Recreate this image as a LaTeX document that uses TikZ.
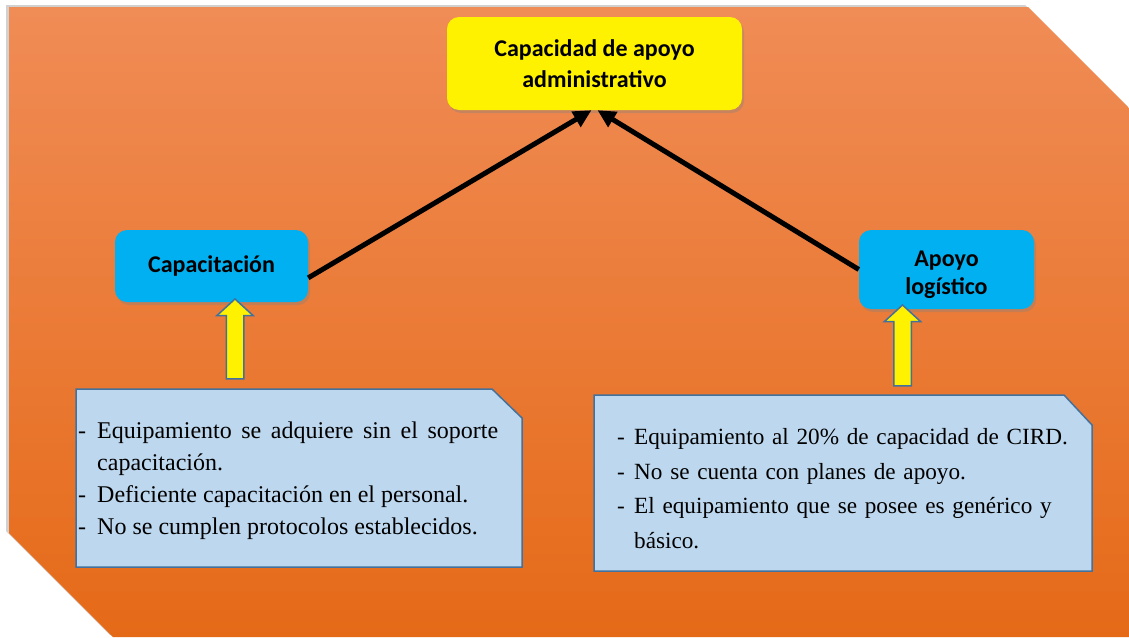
\documentclass[tikz,border=0pt]{standalone}
\usepackage{fontspec}
\setmainfont{Liberation Serif}
\newfontfamily\boxfont{Carlito}
\usetikzlibrary{arrows.meta,shapes.arrows,shadows}

\definecolor{bgtop}{RGB}{240,140,86}
\definecolor{bgmid}{RGB}{245,123,42}
\definecolor{bgbot}{RGB}{229,106,24}
\definecolor{boxblue}{RGB}{0,176,240}
\definecolor{notefill}{RGB}{189,215,238}
\definecolor{noteline}{RGB}{65,113,156}

\begin{document}
\begin{tikzpicture}[x=1pt,y=1pt,
        titlebox/.style={rounded corners=12pt, align=center, inner sep=0pt,
            font=\boxfont\bfseries\fontsize{24}{31}\selectfont,
            drop shadow={shadow xshift=2pt,shadow yshift=-3pt,opacity=0.35}},
        uparrow/.style={single arrow, rotate=90, fill=yellow, draw=noteline,
            line width=1.5pt, inner sep=8pt,
            single arrow head extend=9.5pt, single arrow tip angle=95},
        link/.style={line width=5pt, -{Triangle[length=18pt,width=17pt]}},
        note/.style={fill=notefill, draw=noteline, line width=1.5pt},
        notetext/.style={inner sep=0pt, anchor=north west}]
            \useasboundingbox (0,0) rectangle (1129,-637);

            % background sheet
            \coordinate (b1) at (9,-7);
            \coordinate (b2) at (1028,-7);
            \coordinate (b3) at (1129,-108);
            \coordinate (b4) at (1129,-637);
            \coordinate (b5) at (113,-637);
            \coordinate (b6) at (9,-533);

            \fill[black,opacity=0.18] ([shift={(-3,2)}]b1) -- ([shift={(-3,2)}]b2) -- ([shift={(-3,2)}]b3)
                -- ([shift={(-3,2)}]b4) -- ([shift={(-3,2)}]b5) -- ([shift={(-3,2)}]b6) -- cycle;
            \shade[top color=bgtop, middle color=bgmid, bottom color=bgbot]
                (b1) -- (b2) -- (b3) -- (b4) -- (b5) -- (b6) -- cycle;

            % boxes
            \node[titlebox, fill=yellow, minimum width=295pt, minimum height=93pt]
                (admin) at (594.5,-63.5) {Capacidad de apoyo\\administrativo};
            \node[titlebox, fill=boxblue, minimum width=193pt, minimum height=72pt]
                (cap) at (211.5,-266) {Capacitación};
            \node[titlebox, fill=boxblue, minimum width=175pt, minimum height=79pt, font=\boxfont\bfseries\fontsize{24}{28}\selectfont]
                (apoyo) at (946.5,-269.5) {\rule{0pt}{27pt}Apoyo\\logístico};

            \draw[link] (cap.-7) -- ([xshift=-3pt]admin.south);
            \draw[link] (apoyo.west) -- ([xshift=3pt]admin.south);

            % notes
            \coordinate (l1) at (76,-389);
            \coordinate (l2) at (492,-389);
            \coordinate (l3) at (522,-418);
            \coordinate (l4) at (522,-567);
            \coordinate (l5) at (76,-567);
            \draw[note] (l1) -- (l2) -- (l3) -- (l4) -- (l5) -- cycle;

            \coordinate (r1) at (594,-395);
            \coordinate (r2) at (1064,-395);
            \coordinate (r3) at (1092,-425);
            \coordinate (r4) at (1092,-571);
            \coordinate (r5) at (594,-571);
            \draw[note] (r1) -- (r2) -- (r3) -- (r4) -- (r5) -- cycle;

            \node[notetext, text width=420pt, align=justify, font=\fontsize{24}{32}\selectfont]
                (capnote) at (78,-422) {%
                \hangindent=19pt\hangafter=1\noindent\makebox[19pt][l]{-}Equipamiento se adquiere sin el soporte capacitación.\par
                \hangindent=19pt\hangafter=1\noindent\makebox[19pt][l]{-}Deficiente capacitación en el personal.\par
                \hangindent=19pt\hangafter=1\noindent\makebox[19pt][l]{-}No se cumplen protocolos establecidos.\par};
            \node[notetext, text width=465pt, align=left, font=\fontsize{23.2}{34.5}\selectfont]
                (apoyonote) at (617,-428.5) {%
                \hangindent=17pt\hangafter=1\noindent\makebox[17pt][l]{-}Equipamiento al 20\% de capacidad de CIRD.\par
                \hangindent=17pt\hangafter=1\noindent\makebox[17pt][l]{-}No se cuenta con planes de apoyo.\par
                \hangindent=17pt\hangafter=1\noindent\makebox[17pt][l]{-}El equipamiento que se posee es genérico y básico.\par};

            % block arrows
            \node[uparrow, minimum height=80pt] (capup) at (235,-343) {};
            \node[uparrow, minimum height=81pt] (apoyoup) at (902.5,-349.5) {};
        \end{tikzpicture}
\end{document}
